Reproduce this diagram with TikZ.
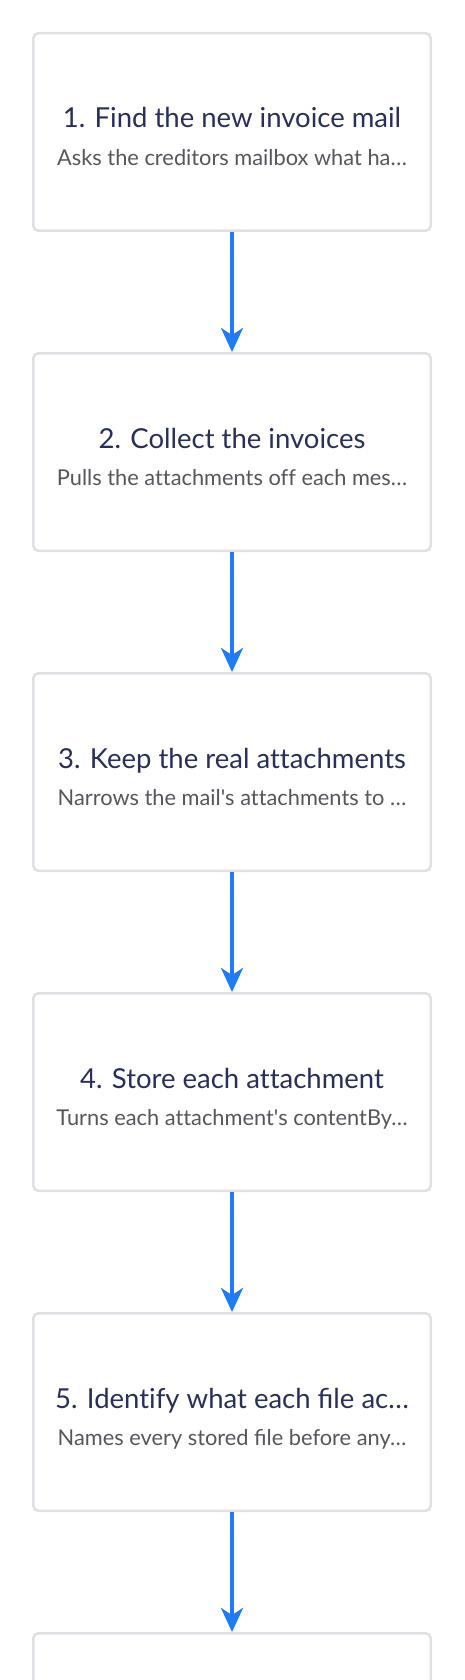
\documentclass[tikz,border=0pt]{standalone}
\usepackage{fontspec}
\setmainfont{Lato}[Ligatures={TeX,NoCommon}]
\usepackage{tikz}
\usetikzlibrary{arrows.meta}
\definecolor{titlenavy}{RGB}{42,47,90}
\definecolor{descgray}{RGB}{85,87,93}
\definecolor{boxgray}{RGB}{222,224,228}
\definecolor{flowblue}{RGB}{30,124,246}
\newcommand{\steptitle}[1]{{\color{titlenavy}\fontsize{27.5}{37.7}\selectfont\rule{0pt}{35.7pt}#1}}
\newcommand{\stepdesc}[1]{{\color{descgray}\fontsize{21.8}{37.7}\selectfont\rule[-6pt]{0pt}{6pt}#1}}
\tikzset{%
    block/.style = {draw=boxgray, line width=2.5pt, rectangle, rounded corners=5pt,
        fill=white, align=center, inner sep=0pt, font=\fontsize{22}{37.7}\selectfont,
        minimum width=397.5pt, minimum height=197.5pt},
    flow/.style = {->, draw=flowblue, line width=4pt},
}

\begin{document}
\begin{tikzpicture}[x=1pt, y=1pt, node distance=320pt,
        >={Stealth[length=24pt, width=22pt, inset=7pt]}]
        \useasboundingbox (0,0) rectangle (464,-1680);
        \draw
            node at (232,-132) [block] (find)
            {
                \steptitle{1. Find the new invoice mail}\\
                \stepdesc{Asks the creditors mailbox what ha…}
            }
            node [block, below of=find] (collect)
            {
                \steptitle{2. Collect the invoices}\\
                \stepdesc{Pulls the attachments off each mes…}
            }
            node [block, below of=collect] (keep)
            {
                \steptitle{3. Keep the real attachments}\\
                \stepdesc{Narrows the mail\textquotesingle s attachments to …}
            }
            node [block, below of=keep] (store)
            {
                \steptitle{4. Store each attachment}\\
                \stepdesc{Turns each attachment\textquotesingle s contentBy…}
            }
            node [block, below of=store] (identify)
            {
                \steptitle{5. Identify what each ﬁle ac…}\\
                \stepdesc{Names every stored ﬁle before any…}
            }
            node [block, below of=identify] (next) {};

        \draw[flow] (find) -- (collect);
        \draw[flow] (collect) -- (keep);
        \draw[flow] (keep) -- (store);
        \draw[flow] (store) -- (identify);
        \draw[flow] (identify) -- (next);
    \end{tikzpicture}
\end{document}
